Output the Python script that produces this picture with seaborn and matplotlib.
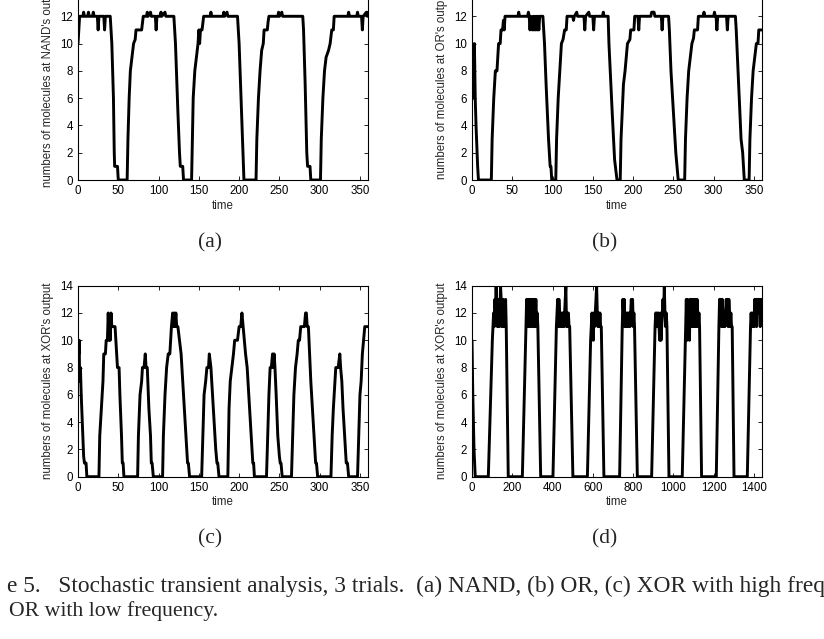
import numpy as np
import matplotlib
matplotlib.use("Agg")
import matplotlib.pyplot as plt
import seaborn as sns

# ---------------------------------------------------------------
# Data: (time, molecules) break points
# ---------------------------------------------------------------
nand_points = [
    (0, 10), (1, 11), (2, 12), (6, 12), (7, 12.3), (8, 12), (12, 12), (13, 12.3), (14, 12),
    (18, 12), (19, 12.3), (20, 12), (24, 12), (25, 11), (26, 12), (32, 12), (33, 11), (34, 12),
    (40, 12), (42, 10), (44, 6), (45, 2), (45.5, 1), (49, 1), (50, 0), (61, 0),
    (62, 3), (63.5, 6), (65, 8), (67, 9), (69, 10), (71, 10.3), (72, 11), (79, 11), (81, 12),
    (85, 12), (86, 12.3), (87, 12), (90, 12.3), (91, 12), (96, 12), (97, 11), (98, 12),
    (102, 12), (103, 12.3), (104, 12), (108, 12.3), (109, 12), (119, 12),
    (121, 10), (124, 5), (126, 2), (127, 1), (130, 1), (131, 0), (141, 0),
    (142, 3), (143, 6), (145, 8), (147, 9), (149, 10), (150, 11), (151, 10), (152, 11),
    (154, 11), (156, 12), (164, 12), (165, 12.3), (166, 12), (180, 12), (181, 12.3), (182, 12),
    (185, 12.3), (186, 12), (198, 12), (200, 10), (203, 5), (206, 0), (221, 0),
    (222, 3), (224, 6), (226, 8), (228, 9.5), (230, 10), (231, 11), (235, 11), (236, 11.6),
    (237, 12), (248, 12), (249, 12.3), (250, 12), (253, 12.3), (254, 12), (279, 12),
    (280, 11), (282, 7), (284, 2), (285, 1), (288, 1), (289, 0), (301, 0),
    (302, 3), (304, 6), (306, 8), (308, 9), (311, 9.5), (313, 10), (315, 11), (317, 11),
    (318, 12), (335, 12), (336, 12.3), (337, 12), (346, 12), (347, 12.3), (348, 12),
    (352, 12), (353, 11), (354, 12), (358, 12.3), (359, 12), (360, 12.3),
]

or_points = [
    (0, 10), (1, 9), (1.5, 6), (2, 9), (2.5, 7), (3, 10), (4, 6), (5, 4), (7, 1), (8, 0), (24, 0),
    (25, 3), (27, 6), (29, 8), (31, 8), (32, 9), (33, 10), (35, 10), (36, 11), (38, 11),
    (39, 11.7), (40, 11), (41, 12), (57, 12), (58, 12.3), (59, 12), (69, 12), (70, 12.3),
    (71, 12), (72, 11), (73, 12), (75, 11), (76, 12), (77, 11), (78, 12), (79, 11), (80, 12),
    (81, 11), (82, 12), (83, 11), (84, 12), (88, 12), (89, 11), (90, 10), (92, 7), (95, 3),
    (97, 1), (98, 1), (99, 0), (104, 0),
    (105, 3), (107, 6), (109, 8), (111, 10), (113, 10.3), (115, 11), (117, 11), (118, 12),
    (125, 12), (126, 11.7), (127, 12), (130, 12.3), (131, 12), (139, 12), (140, 11), (141, 12),
    (145, 12.3), (146, 12), (150, 12), (151, 11), (152, 12), (162, 12), (163, 12.3), (164, 12),
    (169, 12), (170, 10), (174, 5), (177, 1.5), (178, 1), (180, 0), (184, 0),
    (185, 3), (188, 7), (190, 8), (193, 10), (196, 10.3), (197, 11), (201, 11), (202, 12),
    (206, 12), (207, 11), (208, 12), (222, 12), (223, 12.3), (226, 12.3), (227, 12),
    (235, 12), (236, 11), (237, 12), (244, 12), (245, 11), (247, 8), (250, 5), (253, 2),
    (256, 0), (264, 0),
    (265, 3), (267, 6), (269, 8), (271, 9), (273, 10), (275, 10.4), (276, 11), (280, 11),
    (281, 12), (287, 12), (288, 12.3), (289, 12), (300, 12), (301, 12.3), (302, 12),
    (303, 12), (304, 11), (305, 12), (316, 12), (317, 11), (318, 12), (327, 12),
    (328, 11), (331, 7), (334, 3), (336, 2), (338, 0), (344, 0),
    (345, 3), (347, 6), (349, 8), (351, 9), (353, 10), (355, 10), (356, 11), (360, 11),
]

xor_high_points = [
    (0, 10), (1, 9), (1.5, 10), (2, 7), (3, 8), (4, 6), (6, 3), (7, 1.5), (8, 1), (10, 1),
    (11, 0), (26, 0),
    (27, 3), (29, 5), (31, 7), (32, 9), (34, 9), (35, 10), (36.5, 10), (37.5, 12), (38.5, 10),
    (39.5, 11), (40, 10), (41, 12), (42, 11), (46, 11), (47, 10), (48, 9), (49, 8), (51, 8),
    (52, 6), (54, 3), (55, 1), (56, 1), (57, 0), (74, 0),
    (75, 3), (77, 6), (79, 7), (80, 8), (82, 8), (83.5, 9), (84.5, 8), (86, 8), (88, 5),
    (90, 3), (91, 1), (92, 1), (93.5, 0), (105, 0),
    (106, 3), (108, 6), (110, 8), (112, 9), (114, 9), (115, 10), (116, 11), (117.5, 12),
    (118.5, 11), (119.5, 12), (120.5, 11), (121.5, 12), (122.5, 11), (124, 11), (126, 10),
    (128, 9), (129, 8), (131, 6), (134, 3), (136, 1), (137, 1), (138.5, 0), (153.5, 0),
    (155, 3), (156.5, 6), (158.5, 7), (160, 8), (162, 8), (163, 9), (164, 8.5), (165, 8),
    (167, 6), (169, 4), (171, 2), (172.5, 1), (173.5, 1), (175, 0), (186, 0),
    (187.5, 5), (189, 7), (191, 8), (193, 9), (194.5, 10), (198, 10), (200, 11), (202, 11),
    (203.5, 12), (205, 11), (206.5, 10), (208, 9), (210, 8), (212, 6), (214, 4), (216, 2),
    (217, 1), (218, 1), (219, 0), (234, 0),
    (235.5, 3), (237, 6), (238.5, 8), (240, 8), (241.5, 9), (242.5, 8), (243.5, 9),
    (244.5, 8), (246, 6), (248, 3), (250, 1.5), (251, 1), (252, 1), (253.5, 0), (265, 0),
    (266.5, 3), (268, 6), (270, 8), (272, 9), (273.5, 10), (275, 10), (276.5, 11), (281, 11),
    (282.5, 12), (283.5, 12), (284.5, 11), (286, 11), (287.5, 9), (289, 7), (291, 5),
    (293, 3), (295, 1), (296, 1), (297.5, 0), (314, 0),
    (315.5, 3), (317, 5), (319, 7), (320, 8), (323, 8), (325, 9), (326, 8), (327.5, 7),
    (329, 5), (331, 3), (333, 1), (334.5, 1), (336, 0), (347, 0),
    (348.5, 3), (350, 6), (351.5, 7), (353, 9), (354.5, 10), (356, 11), (360, 11),
]

# XOR low frequency: start, then pulses (rise from 0, noisy top, fall to 0)
xor_low_start = [(0, 10), (4, 6), (10, 2), (16, 0)]
xor_low_rise_from = [81, 250, 402, 573, 733, 892, 1044, 1213, 1367]
xor_low_top_from = [101, 268, 419, 589, 746, 909, 1061, 1226, 1383]
xor_low_top_to = [170, 327, 485, 642, 807, 968, 1130, 1292, 1440]
xor_low_fall_to = [180, 341, 501, 655, 821, 978, 1140, 1301, None]
xor_low_tops = [
    [10, 11, 12, 11, 13, 12, 14, 12, 11, 13, 12, 11, 12, 14, 13, 11, 12, 13, 11, 12, 11, 13, 11],
    [11, 13, 12, 11, 13, 11, 12, 13, 11, 13, 12, 11, 13, 12, 11, 13, 11, 12, 11],
    [11, 12, 13, 11, 13, 12, 11, 12, 11, 12, 11, 12, 11, 12, 13, 14, 11, 12, 11, 12, 11, 11],
    [10, 11, 12, 11, 10, 12, 11, 12, 13, 14, 12, 11, 12, 11, 12, 11, 11],
    [11, 13, 12, 13, 11, 12, 11, 12, 11, 12, 11, 12, 11, 12, 13, 12, 13, 11, 12, 11],
    [11, 12, 11, 12, 11, 12, 11, 10, 12, 10, 11, 12, 13, 12, 14, 12, 11, 12, 11],
    [11, 13, 10, 13, 11, 12, 10, 13, 11, 13, 12, 11, 13, 12, 11, 13, 12, 11, 13, 12, 11, 12, 11],
    [11, 13, 12, 13, 11, 13, 12, 11, 12, 11, 12, 13, 12, 13, 11, 13, 12, 11, 12, 11, 11],
    [11, 12, 11, 12, 11, 12, 11, 13, 12, 13, 11, 13, 12, 13, 12, 13, 11, 13, 12, 13],
]

t_d = [p[0] for p in xor_low_start]
v_d = [p[1] for p in xor_low_start]
for r0, t0, t1, f1, tops in zip(xor_low_rise_from, xor_low_top_from, xor_low_top_to,
                                xor_low_fall_to, xor_low_tops):
    t_d.append(r0)
    v_d.append(0)
    t_d.extend(np.linspace(t0, t1, len(tops)))
    v_d.extend(tops)
    if f1 is not None:
        t_d.append(f1)
        v_d.append(0)

panels = [
    ("(a)", nand_points, None, 360, "numbers of molecules at NAND's output"),
    ("(b)", or_points, None, 360, "numbers of molecules at OR's output"),
    ("(c)", xor_high_points, None, 360, "numbers of molecules at XOR's output"),
    ("(d)", None, (t_d, v_d), 1440, "numbers of molecules at XOR's output"),
]

# ---------------------------------------------------------------
# Figure
# ---------------------------------------------------------------
sns.set_theme(style="ticks")
plt.rcParams["font.family"] = ["Liberation Sans", "DejaVu Sans"]

W, H = 824, 639
FS = 8.3
fig = plt.figure(figsize=(W / 100, H / 100), dpi=100)
fig.patch.set_facecolor("white")

# axes boxes in pixels: left, right, bottom, top (y from top of image)
boxes = [(78, 368, 180, -11), (472, 762, 180, -11),
         (78, 368, 476.7, 285.7), (472, 762, 476.7, 285.7)]
cap_pos = [(210, 247), (605, 247), (210, 543), (605, 543)]

for (tag, pts, arr, xmax, ylab), (l, r, b, t), (cx, cy) in zip(panels, boxes, cap_pos):
    ax = fig.add_axes([l / W, 1 - b / H, (r - l) / W, (b - t) / H])
    if pts is not None:
        tt = np.array([p[0] for p in pts], dtype=float)
        vv = np.array([p[1] for p in pts], dtype=float)
    else:
        tt, vv = np.array(arr[0], dtype=float), np.array(arr[1], dtype=float)
    sns.lineplot(x=tt, y=vv, ax=ax, color="black", linewidth=2.1,
                 estimator=None, sort=False)
    ax.set_xlim(0, xmax)
    ax.set_ylim(0, 14)
    ax.set_yticks(range(0, 15, 2))
    if xmax == 360:
        ax.set_xticks(range(0, 351, 50))
    else:
        ax.set_xticks(range(0, 1401, 200))
    ax.tick_params(direction="in", top=True, right=True, length=3, width=0.6,
                   labelsize=FS, pad=3.5, colors="black")
    for s in ax.spines.values():
        s.set_visible(True)
        s.set_linewidth(0.8)
        s.set_color("black")
    ax.set_xlabel("time", fontsize=FS, labelpad=2)
    ax.set_ylabel(ylab, fontsize=FS, labelpad=4.5)
    fig.text(cx / W, 1 - cy / H, tag, ha="center", va="baseline",
             family="Liberation Serif", fontsize=15.5)

fig.text(7 / W, 1 - 592 / H,
         "e 5.   Stochastic transient analysis, 3 trials.  (a) NAND, (b) OR, "
         "(c) XOR with high frequency, (d) X",
         ha="left", va="baseline", family="Liberation Serif", fontsize=16.8)
fig.text(9 / W, 1 - 616 / H, "OR with low frequency.",
         ha="left", va="baseline", family="Liberation Serif", fontsize=15.7)

fig.savefig("out.png", dpi=100)
